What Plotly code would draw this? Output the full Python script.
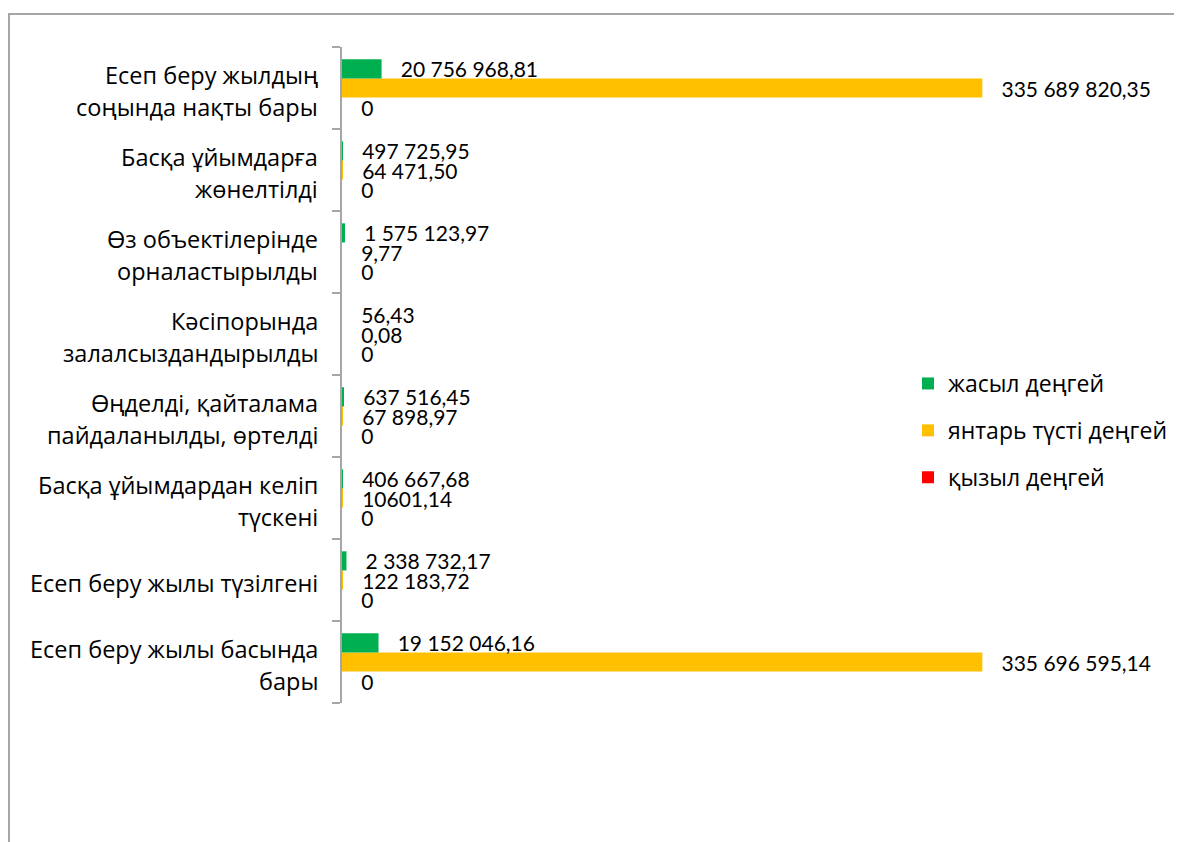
import plotly.graph_objects as go

categories = [
    "Есеп беру жылы басында<br>бары",
    "Есеп беру жылы түзілгені",
    "Басқа ұйымдардан келіп<br>түскені",
    "Өңделді, қайталама<br>пайдаланылды, өртелді",
    "Кәсіпорында<br>залалсыздандырылды",
    "Өз объектілерінде<br>орналастырылды",
    "Басқа ұйымдарға<br>жөнелтілді",
    "Есеп беру жылдың<br>соңында нақты бары",
]

green_values = [19152046.16, 2338732.17, 406667.68, 637516.45, 56.43, 1575123.97, 497725.95, 20756968.81]
green_labels = ["19 152 046,16", "2 338 732,17", "406 667,68", "637 516,45", "56,43", "1 575 123,97", "497 725,95", "20 756 968,81"]

amber_values = [335696595.14, 122183.72, 10601.14, 67898.97, 0.08, 9.77, 64471.50, 335689820.35]
amber_labels = ["335 696 595,14", "122 183,72", "10601,14", "67 898,97", "0,08", "9,77", "64 471,50", "335 689 820,35"]

red_values = [0, 0, 0, 0, 0, 0, 0, 0]
red_labels = ["0", "0", "0", "0", "0", "0", "0", "0"]

series_names = ["жасыл деңгей", "янтарь түсті деңгей", "қызыл деңгей"]
colors = ["#00B050", "#FFC000", "#FF0000"]

NUM_FONT = "Lato, 'Noto Sans', sans-serif"
CAT_FONT = "'Open Sans', 'Noto Sans', sans-serif"
NFS = 21
CFS = 23.5
LFS = 23
PAD = "\u00a0\u00a0\u00a0"

fig = go.Figure()
# order: red (bottom of group), amber, green (top of group)
for name, vals, labs, col, grp, rank in [
    (series_names[2], red_values, red_labels, colors[2], "c", 3),
    (series_names[1], amber_values, amber_labels, colors[1], "b", 2),
    (series_names[0], green_values, green_labels, colors[0], "a", 1),
]:
    fig.add_trace(go.Bar(
        y=categories, x=vals, orientation="h", name=name,
        marker=dict(color=col, line=dict(width=0)),
        text=[PAD + t for t in labs], textposition="outside",
        outsidetextfont=dict(family=NUM_FONT, size=NFS, color="#000000"),
        constraintext="none", cliponaxis=False,
        legendgroup=grp, legendrank=rank,
    ))

# category labels as centered multi-line text at each category
for cat in categories:
    lines = cat.split("<br>")
    n = len(lines)
    for i, line in enumerate(lines):
        fig.add_annotation(
            x=0, xref="x", y=cat, yref="y", text=line, showarrow=False,
            xanchor="right", yanchor="middle", xshift=-22,
            yshift=((n - 1) / 2 - i) * 32 - 3,
            font=dict(family=CAT_FONT, size=CFS, color="#000000"),
        )

OFF = 8  # page body margin
W, H = 1182 - OFF, 842 - OFF
L, R, T, B = 342 - OFF, 1182 - 1105, 47 - OFF, 842 - 703
pw, ph = W - L - R, H - T - B

def px(p):
    return (p - OFF - L) / pw

def py(q):
    return (H - B - (q - OFF)) / ph

fig.add_shape(type="rect", xref="paper", yref="paper",
              x0=px(9), x1=px(1200), y0=py(870), y1=py(14),
              line=dict(color="#a6a6a6", width=2), fillcolor="rgba(0,0,0,0)", layer="below")

fig.update_layout(
    width=W, height=H,
    margin=dict(l=L, r=R, t=T, b=B, autoexpand=False),
    paper_bgcolor="white", plot_bgcolor="white",
    barmode="group", bargap=0.30, bargroupgap=0,
    font=dict(family=CAT_FONT, size=CFS, color="#000000"),
    showlegend=True,
    legend=dict(
        x=px(908), xanchor="left", y=py(362), yanchor="top",
        traceorder="grouped", tracegroupgap=14,
        font=dict(family=CAT_FONT, size=LFS, color="#000000"),
        bgcolor="rgba(0,0,0,0)", itemwidth=30,
    ),
    xaxis=dict(range=[0, 400e6], showgrid=False, zeroline=False, showline=False,
               showticklabels=False, ticks=""),
    yaxis=dict(range=[-0.5, 7.5], showgrid=False, zeroline=False, showline=True,
               linecolor="#a6a6a6", linewidth=2, ticks="outside", ticklen=8,
               tickcolor="#a6a6a6", tickwidth=2, tickson="boundaries",
               showticklabels=False),
)

fig.write_html("out.html")
